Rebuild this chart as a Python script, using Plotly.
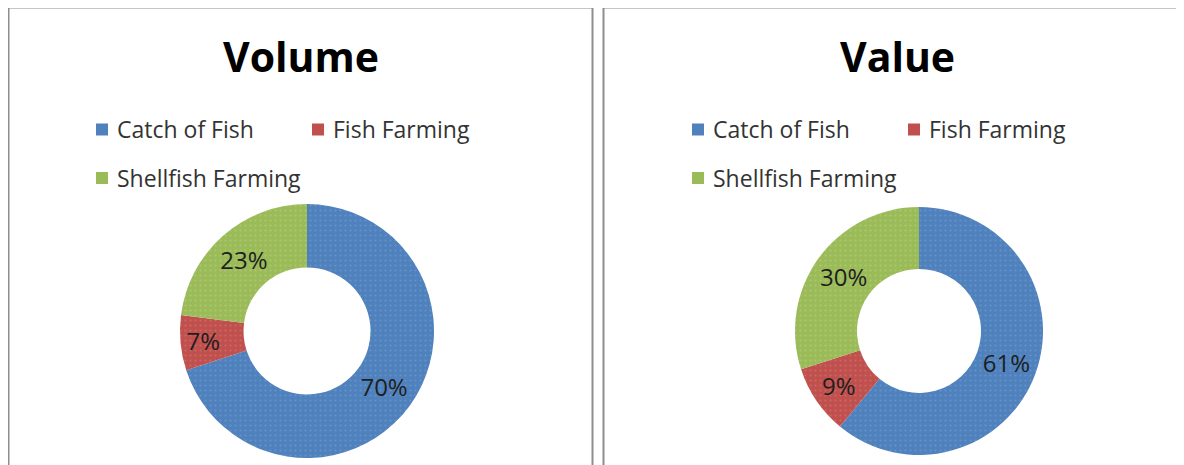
import plotly.graph_objects as go

# page body has an 8px margin, so the figure is drawn 8px in from the corner
PAGE_MARGIN = 8
W, H = 1184 - PAGE_MARGIN, 465 - PAGE_MARGIN

categories = ["Catch of Fish", "Fish Farming", "Shellfish Farming"]
volume_pct = [70, 7, 23]
value_pct = [61, 9, 30]
panel_titles = ["Volume", "Value"]

colors = ["#4F81BD", "#C0504D", "#9BBB59"]
dot_colors = ["#7EA3D3", "#D67E7B", "#B9D389"]
FONT = "Open Sans"

def px(x):
    return (x - PAGE_MARGIN) / W

def py(y):
    return 1 - (y - PAGE_MARGIN) / H

fig = go.Figure()

# donut geometry (screen pixel boxes)
pie_boxes = [
    (180, 434, 204, 458),
    (795, 1043, 207, 455),
]

for vals, (x0, x1, y0, y1) in zip([volume_pct, value_pct], pie_boxes):
    fig.add_trace(go.Pie(
        labels=categories,
        values=vals,
        hole=0.5,
        sort=False,
        direction="clockwise",
        rotation=0,
        texttemplate="%{value}%",
        textposition="inside",
        insidetextorientation="horizontal",
        textfont=dict(family=FONT, size=24, color="#1E1E1E"),
        marker=dict(
            colors=colors,
            line=dict(width=0),
            pattern=dict(shape=".", fgcolor=dot_colors, size=5, solidity=0.15,
                         fillmode="overlay"),
        ),
        domain=dict(x=[px(x0), px(x1)], y=[py(y1), py(y0)]),
        showlegend=False,
        hoverinfo="label+percent",
    ))

shapes = []
annotations = []

panel_offsets = [0, 596]
shapes.append(dict(type="rect", xref="paper", yref="paper",
                   x0=px(8.5), x1=px(592.5), y0=py(7.5), y1=-0.2,
                   line=dict(color="#8E8E8E", width=2), fillcolor="rgba(0,0,0,0)"))
shapes.append(dict(type="rect", xref="paper", yref="paper",
                   x0=px(603.5), x1=px(1260), y0=py(7.5), y1=-0.2,
                   line=dict(color="#8E8E8E", width=2), fillcolor="rgba(0,0,0,0)"))

legend_pos = [(96, 129.5), (312, 129.5), (96, 178)]

for title, off in zip(panel_titles, panel_offsets):
    annotations.append(dict(
        text=f"<b>{title}</b>", xref="paper", yref="paper",
        x=px(301 + off), y=py(56), xanchor="center", yanchor="middle",
        showarrow=False, font=dict(family=FONT, size=41, color="#000000")))
    for cat, col, (lx, ly) in zip(categories, colors, legend_pos):
        sx = lx + off
        shapes.append(dict(type="rect", xref="paper", yref="paper",
                           x0=px(sx), x1=px(sx + 12), y0=py(ly + 6), y1=py(ly - 6),
                           line=dict(width=0), fillcolor=col))
        annotations.append(dict(
            text=cat, xref="paper", yref="paper",
            x=px(sx + 19), y=py(ly), xanchor="left", yanchor="middle",
            showarrow=False, font=dict(family=FONT, size=23, color="#333333")))

fig.update_layout(
    width=W, height=H,
    margin=dict(l=0, r=0, t=0, b=0),
    paper_bgcolor="white",
    plot_bgcolor="white",
    shapes=shapes,
    annotations=annotations,
    uniformtext=dict(minsize=24, mode="show"),
)

fig.write_html("out.html")
